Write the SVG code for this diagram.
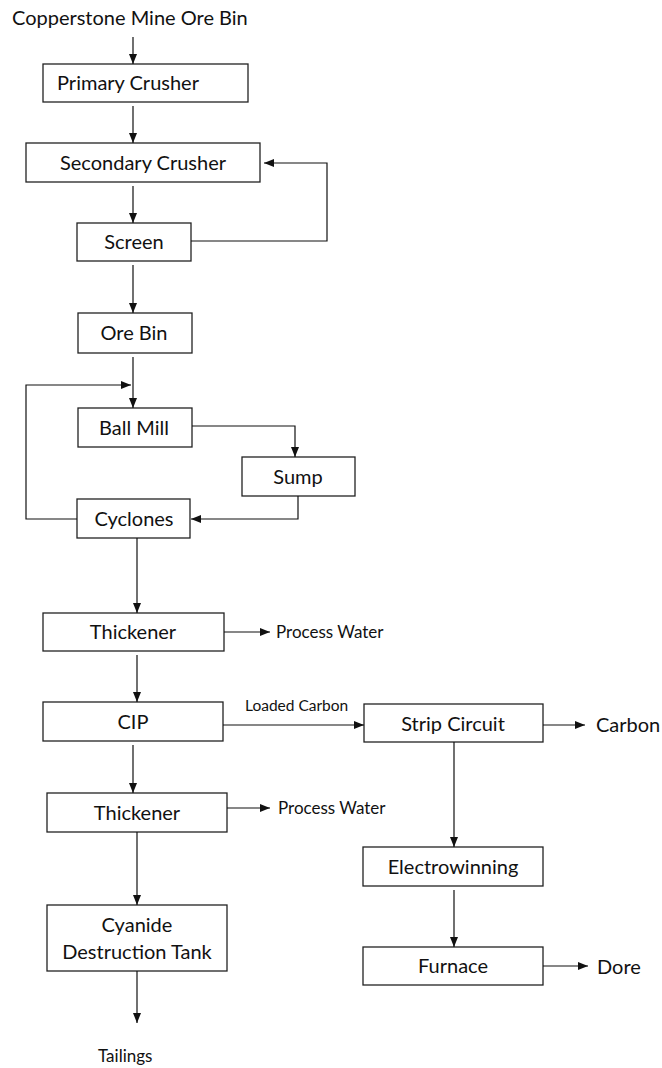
<svg xmlns="http://www.w3.org/2000/svg" width="662" height="1068" viewBox="0 0 662 1068">
<style>
.box{fill:#fff;stroke:#222;stroke-width:1.3}
.lbl{font-family:Lato,"Liberation Sans",sans-serif;font-size:20px;fill:#111;text-anchor:middle}
.sm{font-family:Lato,"Liberation Sans",sans-serif;font-size:17px;fill:#111}
.big{font-family:Lato,"Liberation Sans",sans-serif;font-size:20px;fill:#111}
.ln{fill:none;stroke:#111;stroke-width:1.2}
</style>
<defs>
<marker id="ah" markerUnits="userSpaceOnUse" markerWidth="10" markerHeight="10" viewBox="0 0 10 10" refX="10" refY="5" orient="auto">
<path d="M0,1 L10,5 L0,9 Z" fill="#111"/>
</marker>
</defs>
<text class="big" x="12" y="25">Copperstone Mine Ore Bin</text>
<g id="primary"><rect class="box" x="43" y="64" width="205" height="38"/><text class="lbl" x="128" y="90">Primary Crusher</text></g>
<g id="secondary"><rect class="box" x="26" y="143" width="234" height="39"/><text class="lbl" x="143" y="170">Secondary Crusher</text></g>
<g id="screen"><rect class="box" x="77" y="223" width="114" height="38"/><text class="lbl" x="134" y="249">Screen</text></g>
<g id="orebin"><rect class="box" x="78" y="313" width="114" height="40"/><text class="lbl" x="134" y="340">Ore Bin</text></g>
<g id="ballmill"><rect class="box" x="78" y="408" width="114" height="39"/><text class="lbl" x="134" y="435">Ball Mill</text></g>
<g id="sump"><rect class="box" x="242" y="457" width="113" height="39"/><text class="lbl" x="298" y="484">Sump</text></g>
<g id="cyclones"><rect class="box" x="77" y="499" width="113" height="39"/><text class="lbl" x="134" y="526">Cyclones</text></g>
<g id="thickener1"><rect class="box" x="43" y="613" width="181" height="38"/><text class="lbl" x="133" y="639">Thickener</text></g>
<g id="cip"><rect class="box" x="43" y="702" width="180" height="39"/><text class="lbl" x="133" y="729">CIP</text></g>
<g id="strip"><rect class="box" x="364" y="704" width="179" height="38"/><text class="lbl" x="453" y="731">Strip Circuit</text></g>
<g id="thickener2"><rect class="box" x="47" y="793" width="180" height="39"/><text class="lbl" x="137" y="820">Thickener</text></g>
<g id="cyanide"><rect class="box" x="47" y="905" width="180" height="66"/><text class="lbl" x="137" y="932">Cyanide</text><text class="lbl" x="137" y="959">Destruction Tank</text></g>
<g id="electrowinning"><rect class="box" x="363" y="847" width="180" height="39"/><text class="lbl" x="453" y="874">Electrowinning</text></g>
<g id="furnace"><rect class="box" x="363" y="947" width="180" height="38"/><text class="lbl" x="453" y="973">Furnace</text></g>
<g id="outputs">
<text class="sm" x="276" y="638">Process Water</text>
<text class="sm" x="245" y="711" style="font-size:15.5px">Loaded Carbon</text>
<text class="big" x="596" y="732">Carbon</text>
<text class="sm" x="278" y="814">Process Water</text>
<text class="big" x="597" y="974">Dore</text>
<text class="sm" x="98" y="1062">Tailings</text>
</g>
<g id="connectors">
<path class="ln" marker-end="url(#ah)" d="M133,37 V64"/>
<path class="ln" marker-end="url(#ah)" d="M133,106 V143"/>
<path class="ln" marker-end="url(#ah)" d="M133,186 V223"/>
<path class="ln" marker-end="url(#ah)" d="M191,241 H327 V163 H264"/>
<path class="ln" marker-end="url(#ah)" d="M133,265 V313"/>
<path class="ln" marker-end="url(#ah)" d="M133,357 V408"/>
<path class="ln" marker-end="url(#ah)" d="M77,519 H26 V385 H131"/>
<path class="ln" marker-end="url(#ah)" d="M192,426 H295 V457"/>
<path class="ln" marker-end="url(#ah)" d="M298,496 V519 H191"/>
<path class="ln" marker-end="url(#ah)" d="M137,538 V613"/>
<path class="ln" marker-end="url(#ah)" d="M224,632 H270"/>
<path class="ln" marker-end="url(#ah)" d="M137,655 V702"/>
<path class="ln" marker-end="url(#ah)" d="M223,725 H364"/>
<path class="ln" marker-end="url(#ah)" d="M543,725 H585"/>
<path class="ln" marker-end="url(#ah)" d="M133,745 V793"/>
<path class="ln" marker-end="url(#ah)" d="M227,808 H270"/>
<path class="ln" marker-end="url(#ah)" d="M137,832 V905"/>
<path class="ln" marker-end="url(#ah)" d="M137,971 V1023"/>
<path class="ln" marker-end="url(#ah)" d="M454,742 V847"/>
<path class="ln" marker-end="url(#ah)" d="M454,890 V947"/>
<path class="ln" marker-end="url(#ah)" d="M543,966 H588"/>
</g>
</svg>
